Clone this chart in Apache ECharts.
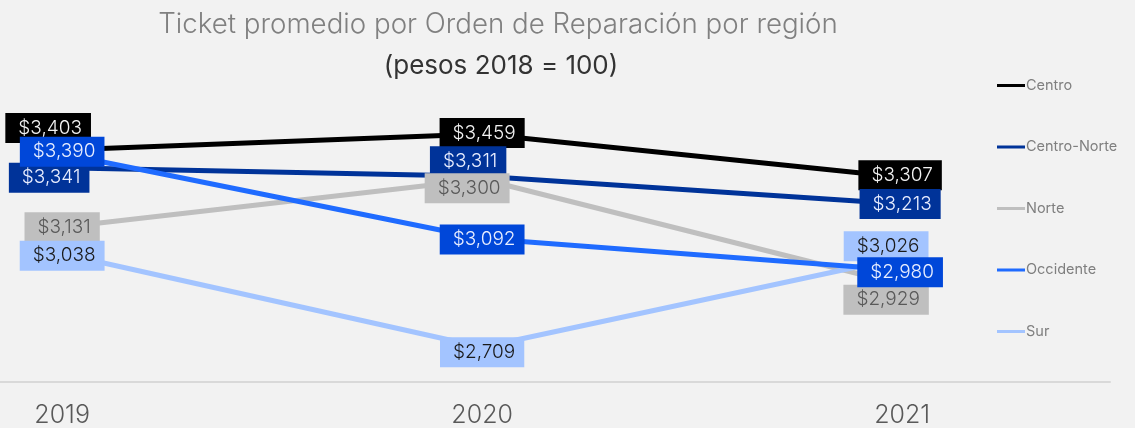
<!DOCTYPE html>
<html>
<head>
<meta charset="utf-8">
<script src="https://cdn.jsdelivr.net/npm/echarts@6/dist/echarts.min.js"></script>
<style>
  html, body { margin: 0; padding: 0; background: #f2f2f2; }
  #chart { width: 1135px; height: 428px; }
</style>
</head>
<body>
<div id="chart"></div>
<script>
// datos
var years = [2019, 2020, 2021];
var centro = [3403, 3459, 3307];
var centroNorte = [3341, 3311, 3213];
var norte = [3131, 3300, 2929];
var occidente = [3390, 3092, 2980];
var sur = [3038, 2709, 3026];

// desplazamiento manual de etiquetas (como en el original)
var labelShift = {
  'Centro': [[-14, -22], [0, -1], [-2, -2]],
  'Centro-Norte': [[-13, 10], [-14, -15], [-2, 0]],
  'Norte': [[0, 0], [-15, 9], [-16, 15]],
  'Occidente': [[0, -2], [0, 1], [-2, 2]],
  'Sur': [[0, 2], [0, 5], [-16, -11]]
};

var FONT = 'Inter, "Noto Sans", sans-serif';

function money(v) {
  return '$' + v.toLocaleString('en-US');
}

function makeSeries(name, values, lineColor, boxColor, textColor, z) {
  return {
    name: name,
    type: 'line',
    z: z,
    symbol: 'circle',
    symbolSize: 0.1,
    showSymbol: true,
    lineStyle: { color: lineColor, width: 5 },
    itemStyle: { color: lineColor },
    data: values.map(function (v, i) {
      return {
        value: [years[i], v],
        label: { offset: labelShift[name][i] }
      };
    }),
    label: {
      show: true,
      position: 'inside',
      formatter: function (p) { return money(p.value[1]); },
      backgroundColor: boxColor,
      color: textColor,
      fontFamily: FONT,
      fontSize: 19,
      fontWeight: 300,
      padding: [6, 9, 5, 13]
    },
    emphasis: { disabled: true }
  };
}

var chart = echarts.init(document.getElementById('chart'));
chart.setOption({
  backgroundColor: '#f2f2f2',
  animation: false,
  title: [
    {
      text: 'Ticket promedio por Orden de Reparación por región',
      left: 493, top: 6, textAlign: 'center',
      textStyle: { fontFamily: FONT, fontSize: 27.7, fontWeight: 300, color: '#808080' }
    },
    {
      text: '(pesos 2018 = 100)',
      left: 496, top: 48, textAlign: 'center',
      textStyle: { fontFamily: FONT, fontSize: 26, fontWeight: 'normal', color: '#333333' }
    }
  ],
  legend: {
    orient: 'vertical',
    left: 992, top: 73,
    itemWidth: 28, itemHeight: 3, itemGap: 46.5,
    icon: 'rect',
    textStyle: { fontFamily: FONT, fontSize: 14.5, color: '#7f7f7f', padding: [0, 0, 0, -4] },
    data: ['Centro', 'Centro-Norte', 'Norte', 'Occidente', 'Sur']
  },
  grid: { left: 0, right: 25, top: 94, bottom: 45 },
  xAxis: {
    type: 'value',
    min: 2018.852, max: 2021.495,
    axisLine: { show: true, lineStyle: { color: '#d9d9d9', width: 2 } },
    axisTick: { show: false },
    splitLine: { show: false },
    axisLabel: {
      customValues: years,
      formatter: function (v) { return String(v); },
      fontFamily: FONT, fontSize: 25, fontWeight: 300, color: '#595959', margin: 21
    }
  },
  yAxis: {
    type: 'value', min: 2587, max: 3600, show: false
  },
  series: [
    makeSeries('Centro', centro, '#000000', '#000000', '#f2f2f2', 2),
    makeSeries('Centro-Norte', centroNorte, '#003399', '#003399', '#e8eeff', 3),
    makeSeries('Norte', norte, '#bfbfbf', '#bfbfbf', '#595959', 4),
    makeSeries('Occidente', occidente, '#1f6bff', '#0047d9', '#e8eeff', 6),
    makeSeries('Sur', sur, '#a3c4ff', '#a3c4ff', '#1a1a1a', 5)
  ]
});
</script>
</body>
</html>
